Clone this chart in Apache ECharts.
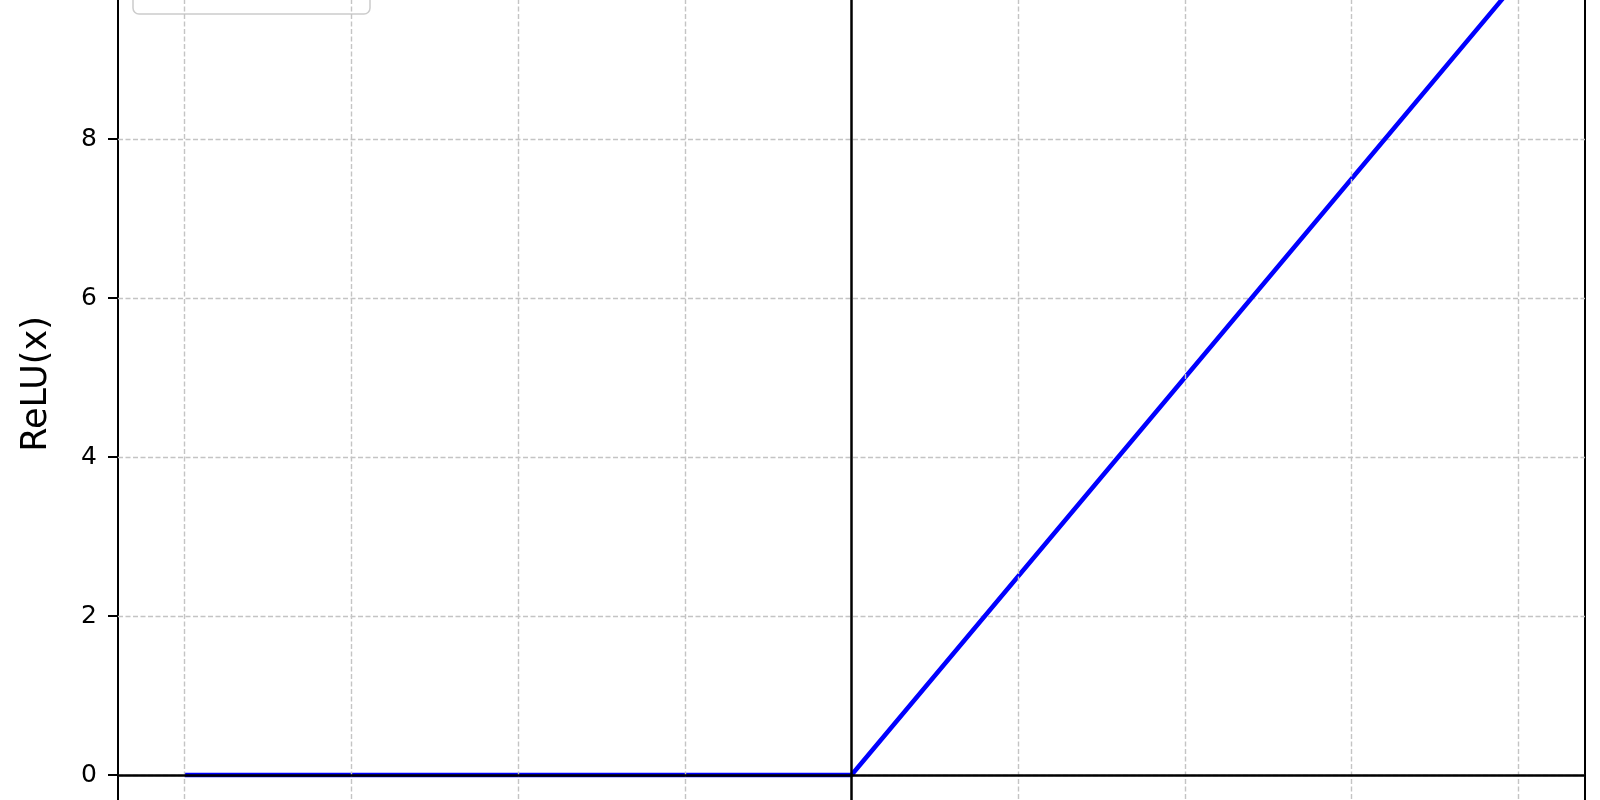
<!DOCTYPE html>
<html><head><meta charset="utf-8">
<script src="https://cdn.jsdelivr.net/npm/echarts@6/dist/echarts.min.js"></script>
<style>html,body{margin:0;padding:0;background:#fff}#chart{width:1600px;height:800px}</style>
</head><body><div id="chart"></div>
<script>
// ---- data ----
const xValues = [-10, -5, 0, 5, 10];
const reluValues = [0, 0, 0, 5, 10];
const xGridTicks = [-10, -7.5, -5, -2.5, 2.5, 5, 7.5, 10];
const xLimits = [-11, 11];
const yLimits = [-2, 12];
const yTickStep = 2;
const seriesName = 'ReLU(x)';
const yAxisTitle = 'ReLU(x)';

const FONT = 'DejaVu Sans';
const gridDash = { color: '#c4c4c4', width: 1.4, type: [5, 2.5] };

const chart = echarts.init(document.getElementById('chart'), null, { renderer: 'canvas' });
chart.setOption({
  animation: false,
  backgroundColor: '#ffffff',
  textStyle: { fontFamily: FONT },
  grid: {
    left: 118, right: 15, top: -179, bottom: -134,
    outerBoundsMode: 'none', containLabel: false,
    show: true, borderColor: '#000000', borderWidth: 2, backgroundColor: 'transparent'
  },
  legend: {
    show: true,
    left: 133, top: -40,
    orient: 'horizontal',
    padding: [12, 14],
    itemWidth: 50, itemHeight: 14, itemGap: 10,
    backgroundColor: 'rgba(255,255,255,0.8)',
    borderColor: '#cccccc', borderWidth: 1.5, borderRadius: 6,
    textStyle: { fontFamily: FONT, fontSize: 25, color: '#000', width: 154, lineHeight: 30 },
    data: [{ name: seriesName, icon: 'path://M0,6 L50,6 L50,8 L0,8 Z' }]
  },
  xAxis: {
    type: 'value', min: xLimits[0], max: xLimits[1],
    axisLine: { show: false, onZero: false }, axisTick: { show: false }, axisLabel: { show: false },
    splitLine: { show: false }
  },
  yAxis: {
    type: 'value', min: yLimits[0], max: yLimits[1], interval: yTickStep,
    name: yAxisTitle, nameLocation: 'middle', nameGap: 55,
    nameTextStyle: { fontFamily: FONT, fontSize: 35, color: '#000', padding: [0, 13, 0, 0] },
    axisLine: { show: false, onZero: false },
    axisTick: { show: true, length: 10, lineStyle: { color: '#000', width: 2 } },
    axisLabel: { fontFamily: FONT, fontSize: 25, color: '#000', margin: 21 },
    splitLine: { show: true, lineStyle: gridDash }
  },
  series: [
    {
      name: 'grid-x', type: 'line', data: [], silent: true, z: 1,
      markLine: {
        silent: true, symbol: ['none', 'none'], animation: false,
        label: { show: false }, lineStyle: gridDash,
        data: xGridTicks.map(v => ({ xAxis: v }))
      }
    },
    {
      name: 'ref-lines', type: 'line', data: [], silent: true, z: 2,
      markLine: {
        silent: true, symbol: ['none', 'none'], animation: false,
        label: { show: false },
        lineStyle: { color: '#000000', width: 2.5, type: 'solid' },
        data: [{ yAxis: 0 }, { xAxis: 0 }]
      }
    },
    {
      name: seriesName, type: 'line', z: 3,
      data: xValues.map((x, i) => [x, reluValues[i]]),
      showSymbol: false, symbol: 'none',
      lineStyle: { color: '#0000ff', width: 4.5 },
      itemStyle: { color: '#0000ff' }
    }
  ]
});
</script></body></html>
